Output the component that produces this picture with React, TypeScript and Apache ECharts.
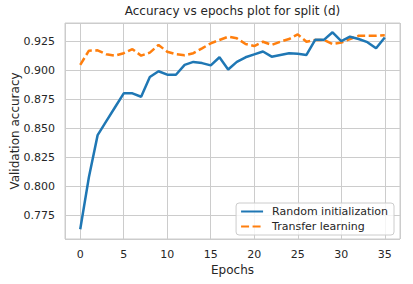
import React, { useEffect, useRef } from "react";
import * as echarts from "echarts";

const epochs = [0,1,2,3,4,5,6,7,8,9,10,11,12,13,14,15,16,17,18,19,20,21,22,23,24,25,26,27,28,29,30,31,32,33,34,35];
const randomInit = [0.763,0.808,0.844,0.856,0.868,0.880,0.880,0.877,0.894,0.899,0.896,0.896,0.9045,0.907,0.906,0.904,0.911,0.9005,0.907,0.911,0.9135,0.916,0.9115,0.913,0.9145,0.914,0.913,0.926,0.926,0.9325,0.925,0.9287,0.9267,0.924,0.9187,0.928];
const transfer = [0.9045,0.9167,0.917,0.9136,0.9124,0.9145,0.918,0.9124,0.915,0.9216,0.9158,0.9136,0.9127,0.9145,0.9187,0.923,0.9259,0.9287,0.9273,0.9224,0.9207,0.9244,0.9216,0.9244,0.9267,0.9307,0.9244,0.9259,0.926,0.9224,0.9236,0.9267,0.9295,0.9295,0.9295,0.930];
const seriesNames = ["Random initialization", "Transfer learning"];
const titleText = "Accuracy vs epochs plot for split (d)";
const xName = "Epochs";
const yName = "Validation accuracy";

const FONT = "DejaVu Sans";
const TEXT = "#262626";

export default function App() {
  const ref = useRef<HTMLDivElement>(null);
  useEffect(() => {
    document.body.style.margin = "0";
    const chart = echarts.init(ref.current!, null, { renderer: "svg" });
    chart.setOption({
      animation: false,
      backgroundColor: "#ffffff",
      title: {
        text: titleText,
        left: 232.5,
        textAlign: "center",
        top: 5,
        padding: 0,
        textStyle: { fontFamily: FONT, fontSize: 12, fontWeight: "normal", color: TEXT },
      },
      grid: {
        left: 65,
        right: 13,
        top: 23,
        bottom: 45,
        containLabel: false,
        outerBoundsMode: "none",
        show: true,
        borderColor: "#cccccc",
        borderWidth: 1,
        backgroundColor: "transparent",
      },
      legend: {
        orient: "vertical",
        right: 19,
        bottom: 49,
        itemWidth: 22,
        itemHeight: 13,
        itemGap: 4,
        padding: [3, 6, 3, 4],
        backgroundColor: "rgba(255,255,255,0.8)",
        borderColor: "#cccccc",
        borderWidth: 1,
        borderRadius: 3,
        itemStyle: { opacity: 0 },
        lineStyle: { width: 2 },
        textStyle: { fontFamily: FONT, fontSize: 11, color: TEXT, padding: [0, 0, 0, 4] },
        data: seriesNames,
      },
      xAxis: {
        type: "value",
        min: -1.75,
        max: 36.75,
        minInterval: 5,
        maxInterval: 5,
        splitNumber: 8,
        name: xName,
        nameLocation: "middle",
        nameGap: 25,
        nameMoveOverlap: false,
        nameTextStyle: { fontFamily: FONT, fontSize: 12, color: TEXT },
        axisLine: { show: false },
        axisTick: { show: false },
        axisLabel: {
          showMinLabel: false,
          showMaxLabel: false,
          margin: 10,
          fontFamily: FONT,
          fontSize: 11,
          color: TEXT,
          formatter: (v: number) => (Math.abs(v % 5) < 1e-9 ? String(v) : ""),
        },
        splitLine: { show: true, lineStyle: { color: "#cccccc", width: 1 } },
      },
      yAxis: {
        type: "value",
        min: 0.7546,
        max: 0.9405,
        minInterval: 0.025,
        maxInterval: 0.025,
        splitNumber: 7,
        name: yName,
        nameLocation: "middle",
        nameGap: 44,
        nameMoveOverlap: false,
        nameTextStyle: { fontFamily: FONT, fontSize: 12, color: TEXT },
        axisLine: { show: false },
        axisTick: { show: false },
        axisLabel: {
          showMinLabel: false,
          showMaxLabel: false,
          margin: 10,
          fontFamily: FONT,
          fontSize: 11,
          color: TEXT,
          formatter: (v: number) => v.toFixed(3),
        },
        splitLine: { show: true, lineStyle: { color: "#cccccc", width: 1 } },
      },
      series: [
        {
          name: seriesNames[0],
          type: "line",
          data: epochs.map((e, i) => [e, randomInit[i]]),
          showSymbol: false,
          symbol: "none",
          lineStyle: { color: "#1f77b4", width: 2.5 },
          itemStyle: { color: "#1f77b4" },
          z: 3,
        },
        {
          name: seriesNames[1],
          type: "line",
          data: epochs.map((e, i) => [e, transfer[i]]),
          showSymbol: false,
          symbol: "none",
          lineStyle: { color: "#ff7f0e", width: 2.5, type: [8, 3.5] },
          itemStyle: { color: "#ff7f0e" },
          z: 2,
        },
      ],
    });
    return () => chart.dispose();
  }, []);
  return <div ref={ref} style={{ width: 413, height: 284 }} />;
}
